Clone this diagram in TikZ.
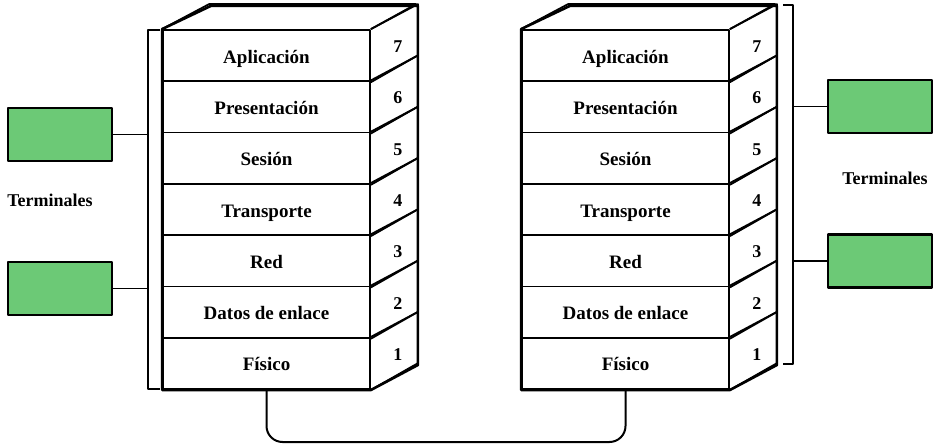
\documentclass[tikz,border=0pt]{standalone}
\usepackage{fontspec}
\setmainfont{Liberation Serif}
\usetikzlibrary{calc}
\definecolor{termgreen}{RGB}{108,201,118}

\begin{document}
\begin{tikzpicture}[x=1pt,y=-1pt,line join=round,
  layer node/.style={rectangle,draw,line width=1.8pt,minimum width=207pt,minimum height=51.3pt,
    inner sep=0pt,text height=15pt,text depth=0pt,font=\fontsize{19}{21}\selectfont\bfseries},
  num node/.style={font=\fontsize{18}{20}\selectfont\bfseries},
  term node/.style={rectangle,draw,line width=2.2pt,fill=termgreen,minimum width=104pt,minimum height=53pt},
  term label/.style={font=\fontsize{18}{20}\selectfont\bfseries},
  side face/.style={line width=1.8pt},
  outline/.style={line width=2.6pt},
  bracket/.style={line width=1.4pt},
  link/.style={line width=1.4pt}]

  \useasboundingbox (0,0) rectangle (939,446);

  % left stack
  \node[layer node] (a7) at (266.5,55.65) {Aplicación};
  \node[layer node] (a6) at (266.5,106.95) {Presentación};
  \node[layer node] (a5) at (266.5,158.25) {Sesión};
  \node[layer node] (a4) at (266.5,209.55) {Transporte};
  \node[layer node] (a3) at (266.5,260.85) {Red};
  \node[layer node] (a2) at (266.5,312.15) {Datos de enlace};
  \node[layer node] (a1) at (266.5,363.45) {Físico};

  % right stack
  \node[layer node] (b7) at (625.5,55.65) {Aplicación};
  \node[layer node] (b6) at (625.5,106.95) {Presentación};
  \node[layer node] (b5) at (625.5,158.25) {Sesión};
  \node[layer node] (b4) at (625.5,209.55) {Transporte};
  \node[layer node] (b3) at (625.5,260.85) {Red};
  \node[layer node] (b2) at (625.5,312.15) {Datos de enlace};
  \node[layer node] (b1) at (625.5,363.45) {Físico};

  % top and side faces
  \draw[side face] (a7.north west) -- ++(47,-25) -- ++(207,0) -- (a7.north east);
  \draw[side face] (a7.north east) -- ++(47,-25) -- ++(0,51.3) -- (a7.south east);
  \draw[side face] (a6.north east) -- ++(47,-25) -- ++(0,51.3) -- (a6.south east);
  \draw[side face] (a5.north east) -- ++(47,-25) -- ++(0,51.3) -- (a5.south east);
  \draw[side face] (a4.north east) -- ++(47,-25) -- ++(0,51.3) -- (a4.south east);
  \draw[side face] (a3.north east) -- ++(47,-25) -- ++(0,51.3) -- (a3.south east);
  \draw[side face] (a2.north east) -- ++(47,-25) -- ++(0,51.3) -- (a2.south east);
  \draw[side face] (a1.north east) -- ++(47,-25) -- ++(0,51.3) -- (a1.south east);
  \draw[outline] (a7.north west) -- (a1.south west) -- (a1.south east) -- ++(47,-25)
    -- ++(0,-359.1) -- ++(-207,0) -- cycle;

  \draw[side face] (b7.north west) -- ++(47,-25) -- ++(207,0) -- (b7.north east);
  \draw[side face] (b7.north east) -- ++(47,-25) -- ++(0,51.3) -- (b7.south east);
  \draw[side face] (b6.north east) -- ++(47,-25) -- ++(0,51.3) -- (b6.south east);
  \draw[side face] (b5.north east) -- ++(47,-25) -- ++(0,51.3) -- (b5.south east);
  \draw[side face] (b4.north east) -- ++(47,-25) -- ++(0,51.3) -- (b4.south east);
  \draw[side face] (b3.north east) -- ++(47,-25) -- ++(0,51.3) -- (b3.south east);
  \draw[side face] (b2.north east) -- ++(47,-25) -- ++(0,51.3) -- (b2.south east);
  \draw[side face] (b1.north east) -- ++(47,-25) -- ++(0,51.3) -- (b1.south east);
  \draw[outline] (b7.north west) -- (b1.south west) -- (b1.south east) -- ++(47,-25)
    -- ++(0,-359.1) -- ++(-207,0) -- cycle;

  % layer numbers
  \node[num node] (na7) at ($(a7.east)+(27,-9)$) {7};
  \node[num node] (na6) at ($(a6.east)+(27,-9)$) {6};
  \node[num node] (na5) at ($(a5.east)+(27,-9)$) {5};
  \node[num node] (na4) at ($(a4.east)+(27,-9)$) {4};
  \node[num node] (na3) at ($(a3.east)+(27,-9)$) {3};
  \node[num node] (na2) at ($(a2.east)+(27,-9)$) {2};
  \node[num node] (na1) at ($(a1.east)+(27,-9)$) {1};
  \node[num node] (nb7) at ($(b7.east)+(27,-9)$) {7};
  \node[num node] (nb6) at ($(b6.east)+(27,-9)$) {6};
  \node[num node] (nb5) at ($(b5.east)+(27,-9)$) {5};
  \node[num node] (nb4) at ($(b4.east)+(27,-9)$) {4};
  \node[num node] (nb3) at ($(b3.east)+(27,-9)$) {3};
  \node[num node] (nb2) at ($(b2.east)+(27,-9)$) {2};
  \node[num node] (nb1) at ($(b1.east)+(27,-9)$) {1};

  % terminals
  \node[term node] (tl1) at (60,134.5) {};
  \node[term node] (tl2) at (60,288.5) {};
  \node[term label] (tll) at (50,200) {Terminales};
  \node[term node] (tr1) at (880,106.5) {};
  \node[term node] (tr2) at (880,261) {};
  \node[term label] (trl) at (885,178) {Terminales};

  % brackets
  \coordinate (lbt) at (148,30);
  \coordinate (lbb) at (148,389);
  \coordinate (rbt) at (793,5);
  \coordinate (rbb) at (793,364);
  \draw[bracket] ($(lbt)+(12,0)$) -- (lbt) -- (lbb) -- ++(12,0);
  \draw[bracket] ($(rbt)+(-10,0)$) -- (rbt) -- (rbb) -- ++(-10,0);

  \path[link]
    (tl1.east) edge (tl1.east -| lbt)
    (tl2.east) edge (tl2.east -| lbt)
    (tr1.west) edge (tr1.west -| rbt)
    (tr2.west) edge (tr2.west -| rbt);

  % physical link
  \draw[line width=2pt,rounded corners=16pt] (a1.south) -- ++(0,52) -| (b1.south);

\end{tikzpicture}
\end{document}
